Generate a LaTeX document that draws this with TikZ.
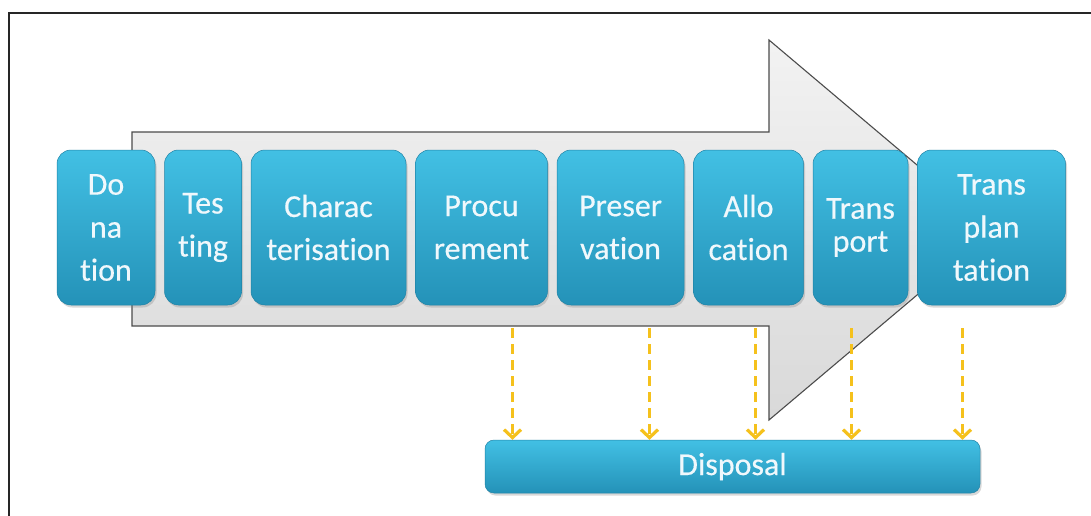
\documentclass[tikz,border=0pt]{standalone}
\usepackage{fontspec}
\setmainfont[Ligatures=NoCommon,FakeBold=0.4]{Carlito}
\usetikzlibrary{arrows.meta,positioning,shadows}
\definecolor{boxtop}{RGB}{66,192,228}
\definecolor{boxbot}{RGB}{36,146,184}
\definecolor{boxtxt}{RGB}{240,248,252}
\definecolor{arrgold}{RGB}{245,193,28}
\tikzset{
	node distance = 9pt and 9pt,
	stage/.style ={rounded corners=14pt, top color=boxtop, bottom color=boxbot, draw=boxbot!90!black, line width=0.5pt,
		minimum height=155pt, inner sep=0pt, align=center, text=boxtxt,
		font=\fontsize{32}{43}\selectfont,
		drop shadow={opacity=0.3, shadow xshift=1.5pt, shadow yshift=-2.5pt}},
	sinkbox/.style ={stage, rounded corners=9pt, minimum height=53pt, minimum width=495pt},
	dispflow/.style={arrgold, line width=3.4pt, dash pattern=on 10pt off 6pt,
		-{Straight Barb[length=8pt,width=17pt,line width=3.2pt]}},
	bigarrow/.style={top color=gray!10, bottom color=gray!30, draw=gray!60!black, line width=1.1pt}
}
\begin{document}
\begin{tikzpicture}[x=1pt,y=-1pt]
	\clip (0,0) rectangle (1091,515);
	\fill[white] (-5,-5) rectangle (1100,520);
	\draw[black!85, line width=2.5pt] (1110,13) -- (9,13) -- (9,540);

	% process arrow behind the stages
	\draw[bigarrow] (132,132) -- (769,132) -- (769,40) -- (994,230) -- (769,420) -- (769,326) -- (132,326) -- cycle;

	\node[stage, minimum width=98pt] (dona) at (106,227.5) {Do\\na\\tion};
	\node[stage, minimum width=77pt] (test) [right =of dona] {Tes\\ting};
	\node[stage, minimum width=155pt] (charac) [right =of test] {Charac\\terisation};
	\node[stage, minimum width=132pt] (procu) [right =of charac] {Procu\\rement};
	\node[stage, minimum width=127pt] (preser) [right =of procu] {Preser\\vation};
	\node[stage, minimum width=110pt] (allo) [right =of preser] {Allo\\cation};
	\node[stage, minimum width=95pt] (transport) [right =of allo] {Trans\\[-10pt]port};
	\node[stage, minimum width=148pt] (transpl) [right =of transport] {Trans\\plan\\tation};

	\node[sinkbox] (disposal) at (732.5,466.5) {Disposal};

	\foreach \n/\dx in {procu/31, preser/29, allo/7, transport/-9, transpl/-29}
		\draw[dispflow] ([xshift=\dx pt, yshift=-23pt]\n.south) -- ([xshift=\dx pt]\n.south |- disposal.north);
\end{tikzpicture}
\end{document}
